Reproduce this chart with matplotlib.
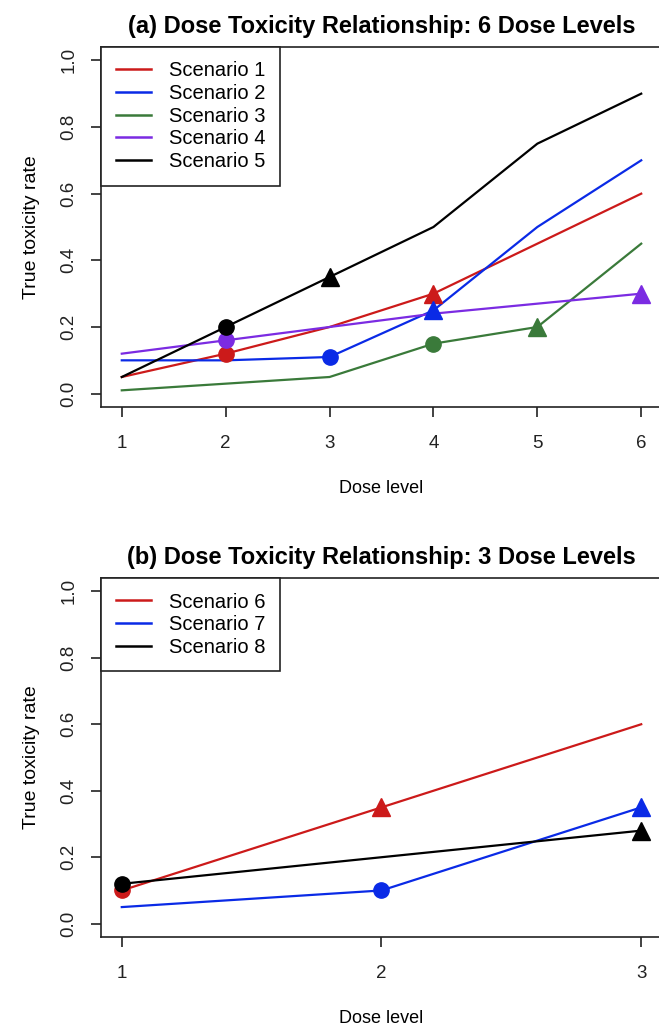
import matplotlib
matplotlib.use("Agg")
import matplotlib.pyplot as plt
from matplotlib.lines import Line2D

plt.rcParams['font.family'] = ['Liberation Sans', 'DejaVu Sans']

# ---- Panel (a): 6 dose levels ----
doses_a = [1, 2, 3, 4, 5, 6]
labels_a = ["Scenario 1", "Scenario 2", "Scenario 3", "Scenario 4", "Scenario 5"]
colors_a = ["#cc1a1a", "#0a2ae6", "#3a7a3a", "#7b2be2", "#000000"]
tox_s1 = [0.05, 0.12, 0.20, 0.30, 0.45, 0.60]
tox_s2 = [0.10, 0.10, 0.11, 0.25, 0.50, 0.70]
tox_s3 = [0.01, 0.03, 0.05, 0.15, 0.20, 0.45]
tox_s4 = [0.12, 0.16, 0.20, 0.24, 0.27, 0.30]
tox_s5 = [0.05, 0.20, 0.35, 0.50, 0.75, 0.90]
series_a = [tox_s1, tox_s2, tox_s3, tox_s4, tox_s5]
# dose levels flagged with a circle / a triangle for each scenario
circle_a = [2, 3, 4, 2, 2]
triangle_a = [4, 4, 5, 6, 3]

# ---- Panel (b): 3 dose levels ----
doses_b = [1, 2, 3]
labels_b = ["Scenario 6", "Scenario 7", "Scenario 8"]
colors_b = ["#cc1a1a", "#0a2ae6", "#000000"]
tox_s6 = [0.10, 0.35, 0.60]
tox_s7 = [0.05, 0.10, 0.35]
tox_s8 = [0.12, 0.20, 0.28]
series_b = [tox_s6, tox_s7, tox_s8]
circle_b = [1, 2, 1]
triangle_b = [2, 3, 3]

W, H = 659, 1029
fig = plt.figure(figsize=(W / 100, H / 100), dpi=100)


def px_axes(left, top, right, bottom):
    return fig.add_axes([left / W, 1 - bottom / H, (right - left) / W, (bottom - top) / H])


def draw_panel(ax, doses, series, colors, labels, circles, triangles, title):
    for vals, col, ci, ti in zip(series, colors, circles, triangles):
        ax.plot(doses, vals, color=col, lw=1.6, zorder=2)
        k = doses.index(ci)
        ax.plot([doses[k]], [vals[k]], 'o', color=col, ms=11, zorder=3)
        k = doses.index(ti)
        ax.plot([doses[k]], [vals[k]], '^', color=col, ms=13, zorder=3)
    span = doses[-1] - doses[0]
    ax.set_xlim(doses[0] - 0.04 * span, doses[-1] + 0.04 * span)
    ax.set_ylim(-0.04, 1.04)
    ax.set_xticks(doses)
    ax.set_xticklabels([str(d) for d in doses])
    yt = [0.0, 0.2, 0.4, 0.6, 0.8, 1.0]
    ax.set_yticks(yt)
    ax.set_yticklabels([f"{v:.1f}" for v in yt], rotation=90, va='center')
    ax.tick_params(axis='both', direction='out', length=7, width=1.2,
                   labelsize=13.5, colors='#222222')
    ax.tick_params(axis='x', pad=13)
    ax.tick_params(axis='y', pad=10)
    for sp in ax.spines.values():
        sp.set_linewidth(1.2)
        sp.set_color('#222222')
    ax.set_xlabel("Dose level", fontsize=13, labelpad=20)
    ax.set_ylabel("True toxicity rate", fontsize=14, labelpad=15)
    ax.set_title(title, fontsize=17, fontweight='bold', pad=10, x=0.5)
    handles = [Line2D([], [], color=c, lw=1.8) for c in colors]
    leg = ax.legend(handles, labels, loc='upper left', bbox_to_anchor=(0, 1),
                    borderaxespad=0, fancybox=False, framealpha=1,
                    edgecolor='#222222', fontsize=14.5, handlelength=1.75,
                    handletextpad=0.9, labelspacing=0.18, borderpad=0.72)
    leg.get_frame().set_linewidth(1.2)


ax1 = px_axes(101, 47, 662, 407)
draw_panel(ax1, doses_a, series_a, colors_a, labels_a, circle_a, triangle_a,
           "(a) Dose Toxicity Relationship: 6 Dose Levels")

ax2 = px_axes(101, 578, 662, 937)
draw_panel(ax2, doses_b, series_b, colors_b, labels_b, circle_b, triangle_b,
           "(b) Dose Toxicity Relationship: 3 Dose Levels")

fig.savefig("out.png", dpi=100, facecolor='white')
